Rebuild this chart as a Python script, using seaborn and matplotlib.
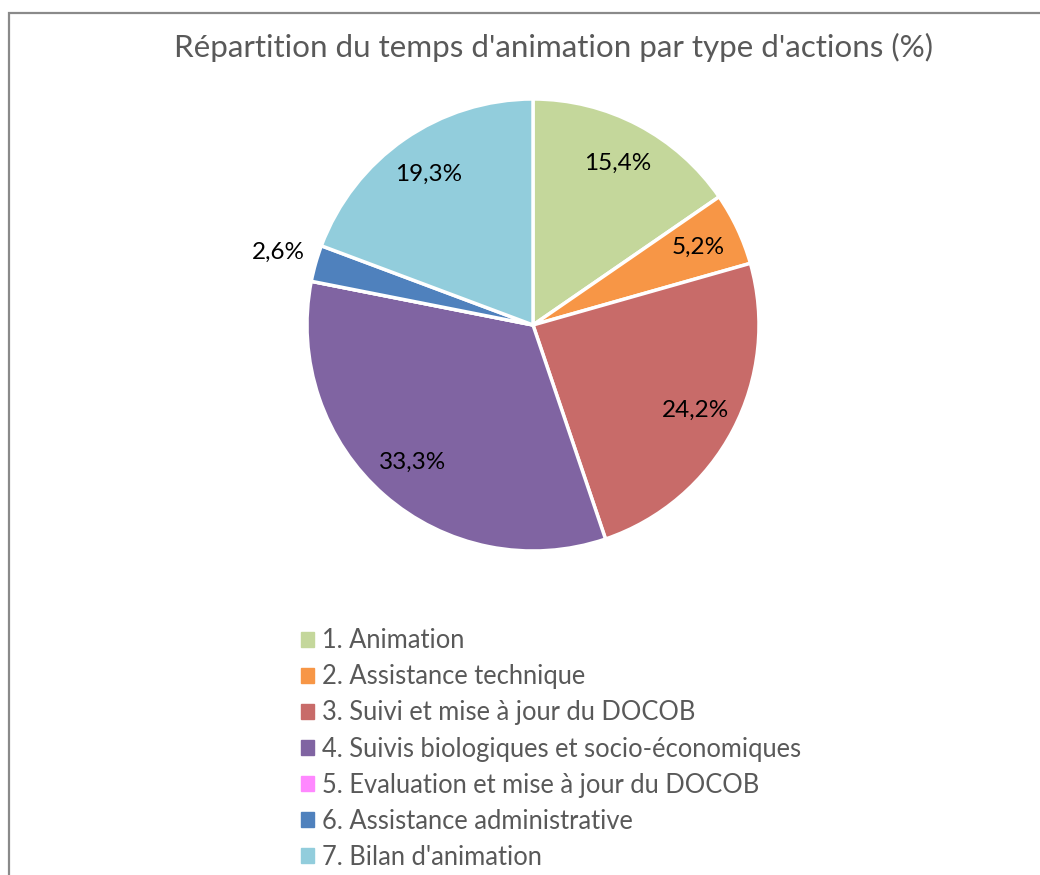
import numpy as np
import matplotlib
matplotlib.use("Agg")
import matplotlib.pyplot as plt
import seaborn as sns
from matplotlib.patches import Rectangle

sns.set_theme(style="white")
plt.rcParams['font.family'] = ['Lato', 'DejaVu Sans']

categories = ["1. Animation", "2. Assistance technique", "3. Suivi et mise à jour du DOCOB",
              "4. Suivis biologiques et socio-économiques", "5. Evaluation et mise à jour du DOCOB",
              "6. Assistance administrative", "7. Bilan d'animation"]
values = [15.4, 5.2, 24.2, 33.3, 0.0, 2.6, 19.3]
colors = ["#C4D79B", "#F79646", "#C86B69", "#8064A2", "#FF88FF", "#4F81BD", "#92CDDC"]
title = "Répartition du temps d'animation par type d'actions (%)"

W, H = 1040, 875
fig = plt.figure(figsize=(W / 100, H / 100), dpi=100)

# pie centre and radius in pixels
cx, cy, r = 533, 325, 226
m = 1.05
ax = fig.add_axes([(cx - r * m) / W, (H - cy - r * m) / H, 2 * r * m / W, 2 * r * m / H])

labels = [("%.1f%%" % v).replace(".", ",") if v > 0 else "" for v in values]
wedges, texts = ax.pie(values, colors=colors, labels=labels, startangle=90, counterclock=False,
                       labeldistance=0.81, wedgeprops=dict(edgecolor="white", linewidth=2.5),
                       textprops=dict(fontsize=17.5, color="black"))
for t in texts:
    t.set_ha("center")
    t.set_va("center")
# small slice label sits outside the pie
x, y = texts[5].get_position()
texts[5].set_position((x * 1.17 / 0.81, y * 1.17 / 0.81))

ax.set_xlim(-m, m)
ax.set_ylim(-m, m)
ax.set_aspect("equal")
ax.axis("off")

fig.text(553 / W, 1 - 47 / H, title, ha="center", va="center", fontsize=22.6, color="#595959")

handles = [plt.Rectangle((0, 0), 1, 1, color=c) for c in colors]
fig.legend(handles, categories, loc="upper left", bbox_to_anchor=(291 / W, 1 - 618 / H),
           frameon=False, fontsize=18.4, labelcolor="#595959", handlelength=0.51, handleheight=0.51,
           handletextpad=0.3, labelspacing=0.435, borderaxespad=0)

# chart frame (only left and top edges visible)
fig.add_artist(Rectangle((9 / W, -0.1), 1.2, 1 - 13 / H + 0.1, transform=fig.transFigure,
                         fill=False, edgecolor="#8A8A8A", linewidth=1.6))

fig.savefig("out.png", dpi=100, facecolor="white")
